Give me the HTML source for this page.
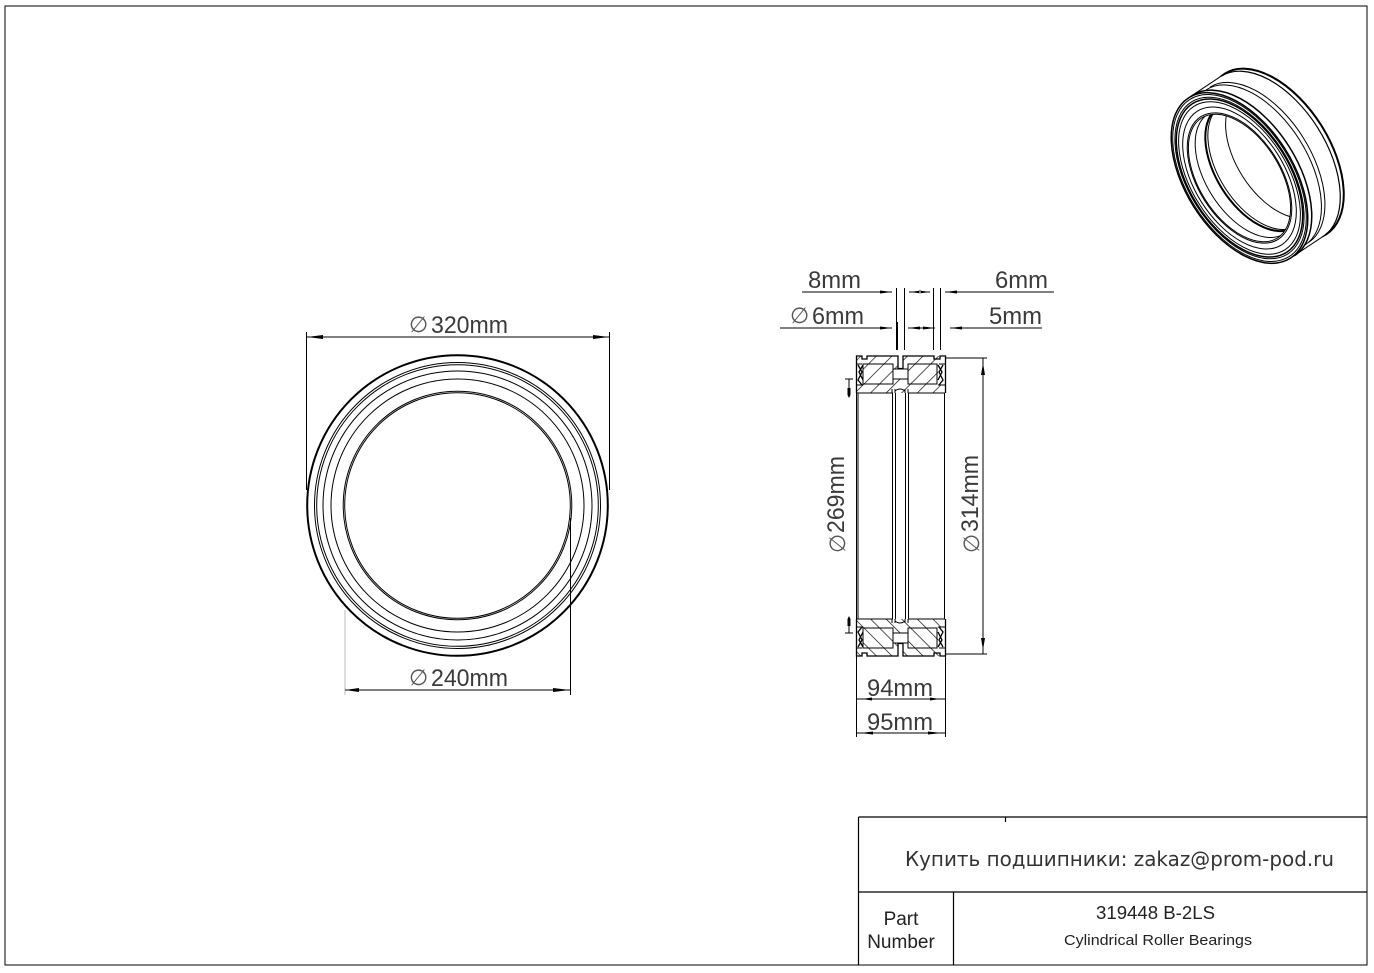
<!DOCTYPE html>
<html><head><meta charset="utf-8"><style>
html,body{margin:0;padding:0;background:#fff;width:1374px;height:973px;overflow:hidden}
svg{display:block}
.t{font-family:"Liberation Sans",sans-serif;font-size:24px;fill:#3a3a3a}
.p{font-family:"DejaVu Sans",sans-serif;font-size:22px;fill:#555}
.d{fill:#000}
</style></head><body>
<svg width="1374" height="973" viewBox="0 0 1374 973" xmlns="http://www.w3.org/2000/svg">
<defs>
<pattern id="h" width="11" height="11" patternUnits="userSpaceOnUse" patternTransform="translate(3 0) rotate(45)">
<line x1="0" y1="0" x2="0" y2="11" stroke="#000" stroke-width="1.300"/>
</pattern>
<clipPath id="hole"><ellipse cx="0" cy="0" rx="71" ry="40.500"/></clipPath>
<g id="sec" fill="none" stroke="#000" stroke-width="1">
<rect x="857" y="356" width="88" height="37" fill="url(#h)" stroke="none"/>
<rect x="893" y="369" width="15" height="10" fill="#fff" stroke="none"/>
<rect x="898" y="356" width="5" height="13" fill="#fff" stroke="none"/>
<rect x="857" y="364" width="6" height="21" fill="#fff" stroke="none"/>
<rect x="938" y="364" width="7" height="21" fill="#fff" stroke="none"/>
<path d="M856.500 393V356H862V359H867V356H898V368.500H903V356H934V359H940V356H945.500V393" stroke-width="1.300"/>
<rect x="863" y="364" width="30" height="20"/>
<rect x="908" y="364" width="29" height="20"/>
<path d="M893 369H908M893 379H908"/>
<path d="M856.500 364H862M939 364H945M856.500 385H863M938 385H945M856.500 393H893M908 393H945"/>
<path d="M858 365L862 372L858 380L862 385M863 365L859 372L863 380M943 365L939 372L943 380L939 385M938 365L942 372L938 380" stroke-width="1.300"/>
<path d="M892 393V389M895 393V389M905 393V389M908 393V389M895 391Q900 387 905 391"/>
</g>
</defs>
<rect width="1374" height="973" fill="#fff"/>

<!-- frame -->
<path d="M5 6H1367V965H5Z" fill="none" stroke="#000" stroke-width="1"/>
<path d="M858.500 817H1367M858.500 817V965M858.500 892H1367M953.500 892V965M1005.500 817V822" fill="none" stroke="#000" stroke-width="1.200"/>
<text x="905" y="866" font-family="'DejaVu Sans',sans-serif" font-size="20" fill="#333" textLength="429" lengthAdjust="spacingAndGlyphs">Купить подшипники: zakaz@prom-pod.ru</text>
<text x="901" y="925" text-anchor="middle" font-family="'Liberation Sans',sans-serif" font-size="19" fill="#222">Part</text>
<text x="901" y="948" text-anchor="middle" font-family="'Liberation Sans',sans-serif" font-size="19" fill="#222">Number</text>
<text x="1096" y="919" font-family="'Liberation Sans',sans-serif" font-size="18" fill="#222" textLength="119" lengthAdjust="spacingAndGlyphs">319448 B-2LS</text>
<text x="1064" y="945" font-family="'Liberation Sans',sans-serif" font-size="15" fill="#222" textLength="188" lengthAdjust="spacingAndGlyphs">Cylindrical Roller Bearings</text>

<!-- front view -->
<g fill="none" stroke="#000">
<circle cx="457.500" cy="505.500" r="150.300" stroke-width="2"/>
<circle cx="457.500" cy="505.500" r="143" stroke-width="1"/>
<circle cx="457.500" cy="505.500" r="140.800" stroke-width="1"/>
<circle cx="457.500" cy="505.500" r="134.500" stroke-width="1"/>
<circle cx="457.500" cy="505.500" r="126.500" stroke-width="1"/>
<circle cx="457.500" cy="505.500" r="114.300" stroke-width="1"/>
<circle cx="457.500" cy="505.500" r="112.800" stroke-width="1"/>
<path d="M306.500 332V490M609.500 332V490M307 337H609M570.500 518V695" stroke-width="1" />
<path d="M345 610V695" stroke="#bbb" stroke-width="1"/>
<path d="M345 690H570" stroke-width="1"/>
</g>
<path class="d" d="M307 337L323 335V339ZM609 337L593 335V339ZM345 690L359 688V692ZM570 690L553 688V692Z"/>
<text class="p" x="409" y="332">∅</text>
<text class="t" x="431" y="333" textLength="77" lengthAdjust="spacingAndGlyphs">320mm</text>
<text class="p" x="409" y="685">∅</text>
<text class="t" x="431" y="686" textLength="77" lengthAdjust="spacingAndGlyphs">240mm</text>

<!-- side view -->
<use href="#sec"/>
<use href="#sec" transform="translate(0 1012) scale(1 -1)"/>
<g fill="none" stroke="#000" stroke-width="1">
<path d="M856.500 393V619M858 393V619M892.500 393V619M895.500 393V619M905.500 393V619M908.500 393V619M944.500 393V619" />
<!-- top dims -->
<path d="M802 292H892M945 292H1054M909 292H930M780 328H892M950 328H1042M908 328H935"/>
<path d="M896.500 288V350M904.500 288V350M933.500 288V350M940.500 288V350"/>
<path d="M897 322V350" stroke-width="2"/>
<!-- 314 -->
<path d="M945 358H987M945 654H987M983 358V654"/>
<!-- 269 -->
<path d="M849 379V392M845 379H853M849 625V633M845 633H853"/>
<!-- width -->
<path d="M856.500 656V737M945.500 656V737M856 699H945M856 733H945"/>
</g>
<path class="d" d="M892 292L880 290.500V293.500ZM910 292L921 290.500V293.500ZM930 292L919 290.500V293.500ZM945 292L957 290.500V293.500ZM892 328L880 326.500V329.500ZM908 328L920 326.500V329.500ZM935 328L923 326.500V329.500ZM950 328L962 326.500V329.500ZM983 363L981 375H985ZM983 650L981 638H985ZM847.500 388H850.500V395L849 398L847.500 395ZM849 616L847.500 619V626H850.500V619ZM862 699L872 697.500V700.500ZM940 699L930 697.500V700.500ZM860 733L873 731.500V734.500ZM942 733L928 731.500V734.500Z"/>
<text class="t" x="808" y="288" textLength="53" lengthAdjust="spacingAndGlyphs">8mm</text>
<text class="t" x="995" y="288" textLength="53" lengthAdjust="spacingAndGlyphs">6mm</text>
<text class="p" x="790" y="323">∅</text>
<text class="t" x="812" y="324" textLength="52" lengthAdjust="spacingAndGlyphs">6mm</text>
<text class="t" x="989" y="324" textLength="53" lengthAdjust="spacingAndGlyphs">5mm</text>
<text class="t" x="867" y="696" textLength="66" lengthAdjust="spacingAndGlyphs">94mm</text>
<text class="t" x="867" y="730" textLength="66" lengthAdjust="spacingAndGlyphs">95mm</text>
<text class="t" transform="translate(844 533) rotate(-90)" textLength="77" lengthAdjust="spacingAndGlyphs">269mm</text>
<text class="p" transform="translate(845 553) rotate(-90)">∅</text>
<text class="t" transform="translate(978 532) rotate(-90)" textLength="77" lengthAdjust="spacingAndGlyphs">314mm</text>
<text class="p" transform="translate(979 553) rotate(-90)">∅</text>

<!-- isometric -->
<g fill="#fff" stroke="#000" stroke-width="1">
<g transform="translate(1275.500 154) rotate(57.700)">
<ellipse rx="95" ry="54" stroke-width="2"/>
</g>
<path d="M1290.200 258.300L1326.200 234.300L1275.500 154L1224.800 73.700L1188.800 97.700L1239.500 178Z" stroke="none"/>
<path d="M1290.200 258.300L1326.200 234.300M1188.800 97.700L1224.800 73.700" fill="none"/>
<g fill="none">
<g transform="translate(1272 156.500) rotate(57.700)"><path d="M-95 0A95 54 0 0 1 95 0" stroke-width="1.200"/></g>
<g transform="translate(1259 165) rotate(57.700)"><path d="M-92 0A92 52 0 0 1 92 0"/></g>
<g transform="translate(1255.500 167.500) rotate(57.700)"><path d="M-92 0A92 52 0 0 1 92 0"/></g>
<g transform="translate(1243.500 175.500) rotate(57.700)"><path d="M-95 0A95 54 0 0 1 95 0" stroke-width="1.500"/></g>
</g>
<g transform="translate(1239.500 178) rotate(57.700)">
<ellipse rx="95" ry="54" stroke-width="1.500"/>
<ellipse rx="93" ry="52.800" fill="none"/>
<ellipse rx="90" ry="51" fill="none"/>
<ellipse rx="88" ry="50" fill="none" stroke-width="1.500"/>
<ellipse rx="85" ry="48" fill="none"/>
<ellipse rx="79" ry="45" fill="none"/>
<ellipse rx="72.500" ry="41.500" stroke-width="1"/>
<ellipse rx="71" ry="40.500" stroke-width="1"/>
<g clip-path="url(#hole)" fill="none">
<ellipse cx="0" cy="-8" rx="71" ry="40.500"/>
<ellipse cx="0" cy="-20" rx="71" ry="40.500" stroke-width="2"/>
<ellipse cx="0" cy="-23" rx="71" ry="40.500" stroke-width="1"/>
<ellipse cx="0" cy="-44" rx="71" ry="40.500"/>
</g>
</g>
</g>
</svg>
</body></html>
